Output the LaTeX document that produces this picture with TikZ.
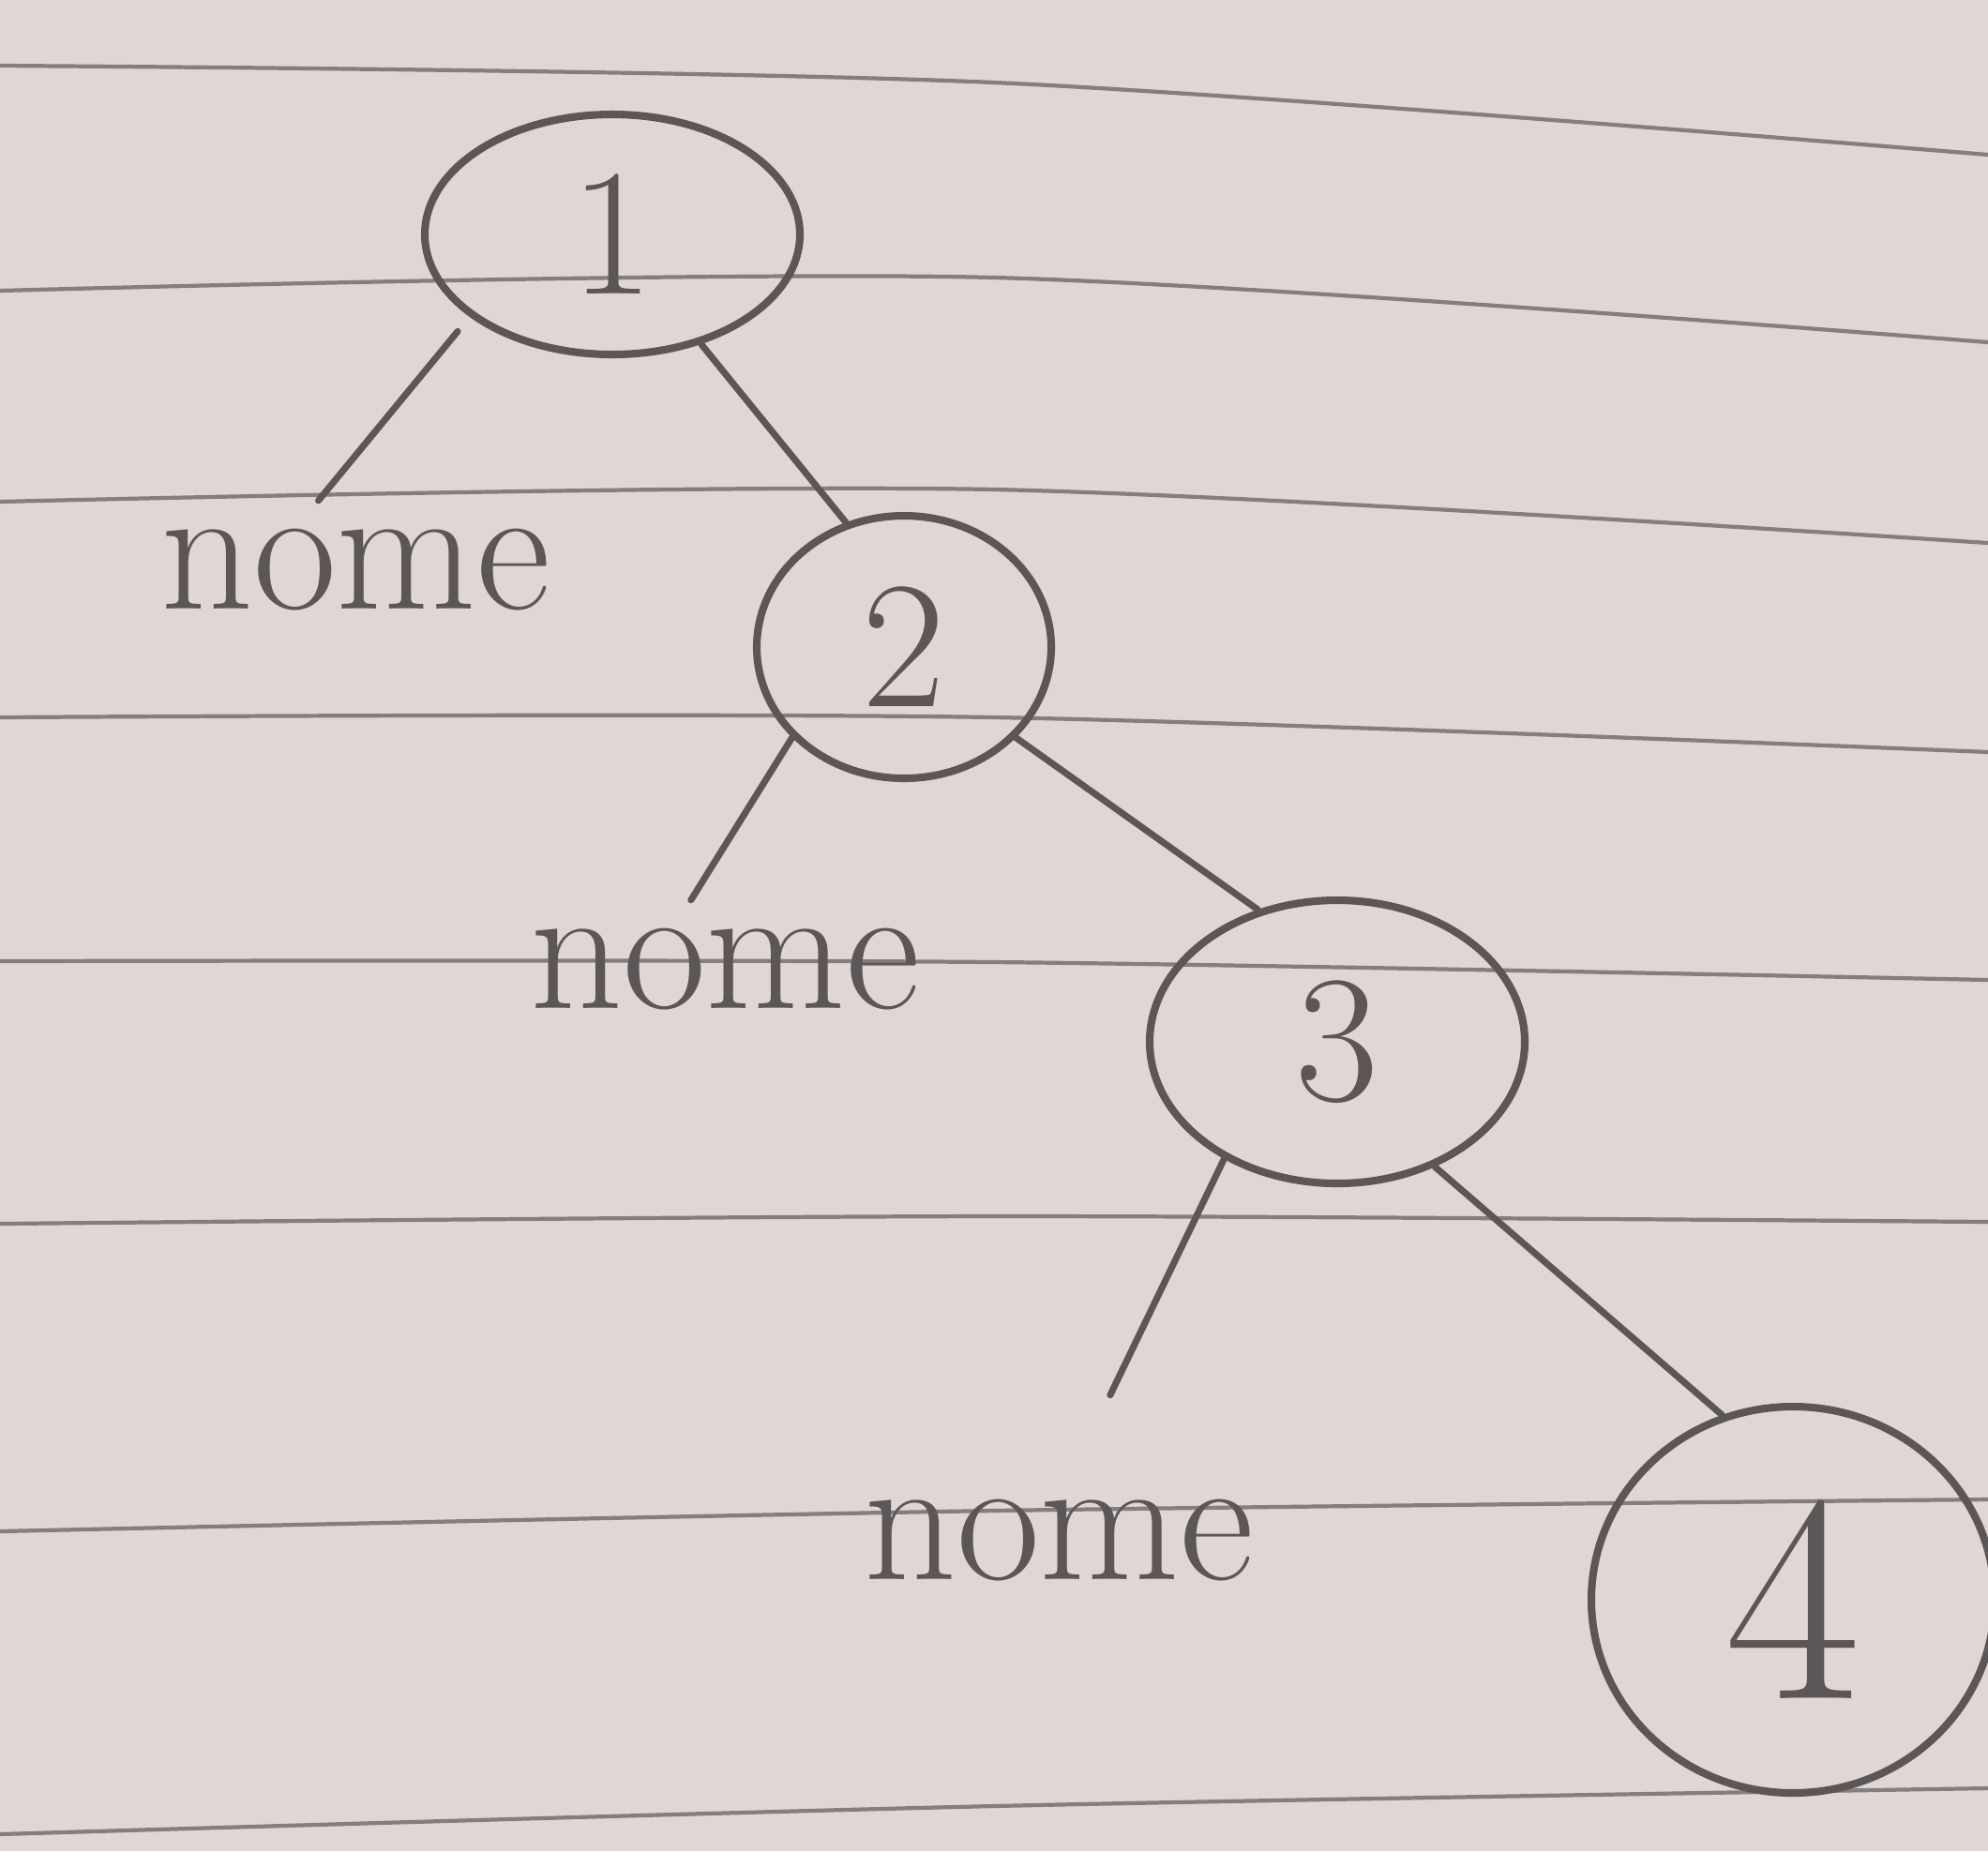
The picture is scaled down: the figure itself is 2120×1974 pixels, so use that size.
\documentclass[tikz,border=0pt]{standalone}
\usepackage{pgf}
\usetikzlibrary{positioning}
\usetikzlibrary{shapes.geometric}
\definecolor{paper}{RGB}{223,214,213}
\definecolor{pencil}{RGB}{92,86,86}
\definecolor{ruling}{RGB}{132,126,128}

\begin{document}
\begin{tikzpicture}[x=0.1mm,y=-0.1mm]
			\tikzset{vertex/.style = {shape=ellipse, draw=pencil, line width=2.3pt, inner sep=0pt, text=pencil, font=\fontsize{55}{60}\selectfont}}
			\tikzset{leaf/.style = {inner sep=3mm, text=pencil, font=\fontsize{55}{60}\selectfont}}
			\tikzset{branch/.style = {draw=pencil, line width=2pt, line cap=round}}
			\tikzset{ruled/.style = {draw=ruling, line width=1.2pt}}
			
			% sheet and its ruled lines
			\path[use as bounding box, fill=paper] (0,0) rectangle (2120,1974);
			\draw[ruled] plot[smooth] coordinates {(0,70) (1060,88) (2120,165)};
			\draw[ruled] plot[smooth] coordinates {(0,310) (1060,296) (2120,365)};
			\draw[ruled] plot[smooth] coordinates {(0,535) (1060,522) (2120,579)};
			\draw[ruled] plot[smooth] coordinates {(0,765) (1060,765) (2120,802)};
			\draw[ruled] plot[smooth] coordinates {(0,1025) (1060,1026) (2120,1045)};
			\draw[ruled] plot[smooth] coordinates {(0,1305) (1060,1297) (2120,1303)};
			\draw[ruled] plot[smooth] coordinates {(0,1633) (1060,1611) (2120,1599)};
			\draw[ruled] plot[smooth] coordinates {(0,1956) (1060,1926) (2120,1907)};
			
			\node[vertex, minimum width=40mm, minimum height=25.6mm] (N1) at (653,250) {1};
			\node[vertex, minimum width=31.4mm, minimum height=28mm] (N2) at (964,690) {2};
			\node[vertex, minimum width=40mm, minimum height=30.2mm] (N3) at (1426,1111) {3};
			\node[vertex, minimum width=43mm, minimum height=41.2mm, font=\fontsize{90}{96}\selectfont] (N4) at (1912,1706) {4};
			
			\node[leaf] (E1) at (379,608) {nome};
			\node[leaf] (E2) at (773,1034) {nome};
			\node[leaf] (E3) at (1129,1643) {nome};
			
			\draw[branch, shorten <=2mm] (N1.210) -- (E1.118);
			\draw[branch] (N1.309) -- (N2.115);
			\draw[branch] (N2.219) -- (E2.116);
			\draw[branch] (N2.321) -- (N3.121);
			\draw[branch, shorten >=9mm] (N3.226) -- (E3.78);
			\draw[branch] (N3.308) -- (N4.111);
			
			\end{tikzpicture}
\end{document}
